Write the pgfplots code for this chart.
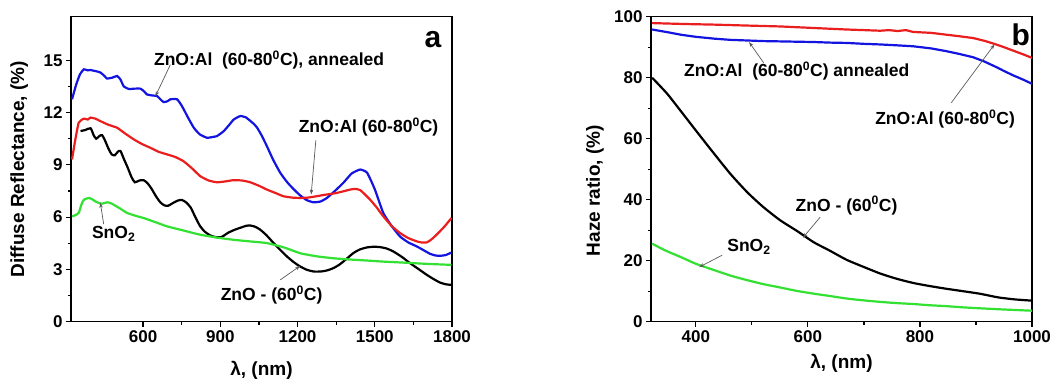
\documentclass[border=0pt]{standalone}
\usepackage{fontspec}
\setmainfont{Liberation Sans}
\usepackage{pgfplots}
\pgfplotsset{compat=1.18}
\usetikzlibrary{arrows.meta}
\definecolor{cblue}{RGB}{20,20,225}
\definecolor{cred}{RGB}{235,30,30}
\definecolor{cgreen}{RGB}{50,225,50}
\newcommand{\fs}{\fontsize{17}{20}\selectfont\bfseries}
\newcommand{\fa}{\fontsize{17.5}{21}\selectfont\bfseries}
\newcommand{\fl}{\fontsize{19}{22}\selectfont\bfseries}
\newcommand{\dg}{\textsuperscript{0}}
\tikzset{ann/.style={gray!70!black, line width=0.7pt, -{Stealth[length=5pt,width=3.5pt]}}}
\pgfplotsset{
  myax/.style={
    scale only axis, width=381pt, height=305pt,
    axis line style={line width=1.4pt},
    tick align=outside, tick pos=left,
    major tick length=5pt, minor tick length=3pt,
    every tick/.style={line width=1.2pt, black},
    minor tick num=1,
    tick label style={font=\fs},
    /pgf/number format/assume math mode=true,
    /pgf/number format/1000 sep={},
    label style={font=\fl},
    clip=true,
  },
}
\begin{document}
\begin{tikzpicture}
\useasboundingbox (0,0) rectangle (1057pt,385pt);
% ---------------- panel a
\begin{axis}[myax, at={(71pt,63.3pt)},
  xmin=320, xmax=1800, ymin=0, ymax=17.5,
  xtick={600,900,1200,1500,1800}, ytick={0,3,6,9,12,15},
  xlabel={λ, (nm)}, ylabel={Diffuse Reflectance, (\%)},
  xlabel style={at={(axis description cs:0.5,-0.158)}, anchor=center},
  ylabel style={at={(axis description cs:-0.136,0.5)}, anchor=center, rotate=0},
]
\addplot[cblue, line width=2.2pt, smooth, tension=0.3] coordinates {
(324,12.76)(340,13.6)(355,14.2)(370,14.48)(385,14.42)(395,14.44)(415,14.38)(434,14.3)(450,14.1)(460,13.95)(480,14.0)(499,14.1)(512,13.9)(525,13.5)(545,13.35)(564,13.37)(590,13.37)(605,13.2)(615,13.04)(635,12.98)(654,12.95)(668,12.75)(680,12.6)(695,12.65)(706,12.76)(732,12.76)(751,12.37)(775,11.7)(797,11.13)(820,10.75)(849,10.55)(870,10.6)(887,10.65)(913,10.93)(935,11.3)(952,11.6)(978,11.8)(1000,11.72)(1010,11.6)(1030,11.35)(1043,11.13)(1060,10.7)(1081,10.07)(1105,9.3)(1133,8.54)(1160,8.0)(1185,7.6)(1210,7.25)(1235,6.98)(1262,6.85)(1290,6.9)(1314,7.1)(1345,7.5)(1378,7.97)(1410,8.5)(1443,8.73)(1470,8.55)(1500,7.6)(1533,6.24)(1565,5.5)(1598,4.89)(1630,4.55)(1663,4.32)(1690,4.1)(1714,3.9)(1735,3.8)(1753,3.78)(1775,3.82)(1798,3.97)
};
\addplot[cred, line width=2.2pt, smooth, tension=0.3] coordinates {
(324,9.31)(335,10.3)(350,11.42)(370,11.65)(385,11.6)(396,11.71)(415,11.65)(434,11.51)(465,11.3)(499,11.13)(530,10.8)(564,10.46)(595,10.2)(628,9.98)(660,9.75)(693,9.6)(725,9.45)(757,9.21)(790,8.8)(822,8.35)(855,8.1)(887,8.0)(920,8.05)(951,8.12)(985,8.1)(1016,8.0)(1050,7.8)(1081,7.58)(1115,7.38)(1145,7.2)(1180,7.12)(1210,7.1)(1240,7.12)(1275,7.2)(1305,7.28)(1339,7.35)(1370,7.45)(1404,7.58)(1425,7.62)(1443,7.55)(1462,7.3)(1482,7.0)(1505,6.6)(1533,6.05)(1565,5.5)(1598,5.09)(1630,4.8)(1663,4.61)(1680,4.55)(1702,4.55)(1720,4.72)(1740,4.99)(1770,5.45)(1798,5.95)
};
\addplot[black, line width=2.2pt, smooth, tension=0.4] coordinates {
(357,10.94)(376,11.0)(396,11.1)(408,10.7)(418,10.5)(430,10.65)(441,10.7)(452,10.4)(465,9.95)(478,9.6)(490,9.55)(502,9.75)(512,9.8)(525,9.35)(540,8.85)(555,8.3)(568,8.0)(585,8.1)(602,8.12)(617,7.95)(632,7.65)(650,7.2)(667,6.85)(682,6.68)(697,6.65)(715,6.8)(735,6.95)(751,6.98)(767,6.85)(785,6.55)(803,6.0)(822,5.47)(841,5.15)(861,4.95)(880,4.86)(900,4.84)(915,4.95)(930,5.1)(955,5.27)(980,5.4)(1000,5.5)(1016,5.52)(1035,5.45)(1055,5.28)(1080,4.95)(1107,4.51)(1133,4.12)(1159,3.74)(1185,3.42)(1210,3.17)(1236,2.98)(1262,2.88)(1290,2.88)(1314,2.94)(1340,3.08)(1365,3.3)(1390,3.6)(1417,3.94)(1443,4.15)(1469,4.26)(1495,4.3)(1520,4.28)(1546,4.2)(1572,4.03)(1605,3.72)(1637,3.36)(1670,3.02)(1702,2.69)(1728,2.45)(1753,2.25)(1775,2.15)(1798,2.11)
};
\addplot[cgreen, line width=2.2pt, smooth, tension=0.3] coordinates {
(324,6.04)(335,6.1)(350,6.24)(360,6.7)(370,7.0)(390,7.1)(405,7.0)(415,6.9)(430,6.8)(441,6.77)(460,6.85)(475,6.8)(486,6.71)(510,6.5)(538,6.24)(570,6.08)(602,5.95)(650,5.7)(693,5.47)(760,5.22)(822,4.99)(890,4.82)(951,4.7)(1020,4.6)(1081,4.51)(1150,4.25)(1210,3.93)(1275,3.75)(1339,3.64)(1400,3.57)(1469,3.51)(1530,3.45)(1598,3.4)(1700,3.32)(1798,3.26)
};
\node[font=\fa, anchor=west] at (axis cs:629,15) {ZnO:Al\ \ (60-80\dg C), annealed};
\draw[ann] (axis cs:706,14.75) -- (axis cs:648,12.94);
\node[font=\fa, anchor=west] at (axis cs:1191,11.15) {ZnO:Al (60-80\dg C)};
\draw[ann] (axis cs:1271,10.4) -- (axis cs:1253,7.3);
\node[font=\fa, anchor=west] at (axis cs:388,5.05) {SnO\textsubscript{2}};
\draw[ann] (axis cs:447,5.6) -- (axis cs:434,6.82);
\node[font=\fa, anchor=west] at (axis cs:888,1.54) {ZnO - (60\dg C)};
\draw[ann] (axis cs:1133,2.4) -- (axis cs:1210,3.2);
\node[font=\fontsize{30}{34}\selectfont\bfseries] at (axis cs:1726,16.2) {a};
\end{axis}
% ---------------- panel b
\begin{axis}[myax, at={(651pt,63.3pt)},
  xmin=320, xmax=1000, ymin=0, ymax=100,
  xtick={400,600,800,1000}, ytick={0,20,40,60,80,100},
  xlabel={λ, (nm)}, ylabel={Haze ratio, (\%)},
  xlabel style={at={(axis description cs:0.5,-0.136)}, anchor=center},
  ylabel style={at={(axis description cs:-0.147,0.43)}, anchor=center, rotate=0},
]
\addplot[cred, line width=2.2pt] coordinates {
(322,97.9)(380,97.6)(433,97.4)(490,97.1)(551,96.8)(610,96.3)(669,95.8)(700,95.6)(729,95.4)(745,95.6)(760,95.3)(775,95.6)(788,95.0)(820,94.7)(847,94.1)(870,93.6)(895,93.0)(915,92.1)(936,90.9)(950,90.0)(966,88.9)(985,87.6)(1000,86.5)
};
\addplot[cblue, line width=2.2pt] coordinates {
(322,95.8)(350,94.9)(373,94.1)(400,93.4)(433,92.8)(462,92.4)(492,92.2)(520,92.0)(551,91.9)(580,91.8)(610,91.7)(640,91.5)(669,91.4)(700,91.1)(729,90.9)(760,90.6)(788,90.3)(820,89.6)(847,88.7)(870,87.8)(895,86.7)(915,85.3)(936,83.5)(950,82.2)(966,80.8)(985,79.3)(1000,78.0)
};
\addplot[black, line width=2.2pt, smooth, tension=0.4] coordinates {
(322,80.0)(335,77.5)(350,74.5)(373,69.1)(403,62.0)(433,55.0)(462,48.4)(492,42.4)(521,37.5)(551,33.2)(581,29.7)(610,26.1)(640,23.2)(669,20.3)(699,18.0)(729,15.8)(758,14.1)(788,12.7)(817,11.7)(847,10.8)(877,10.0)(906,9.2)(925,8.5)(942,7.9)(970,7.3)(1000,6.9)
};
\addplot[cgreen, line width=2.2pt, smooth, tension=0.4] coordinates {
(322,25.6)(345,23.4)(373,21.2)(400,19.0)(433,16.9)(462,15.1)(492,13.6)(521,12.3)(551,11.2)(580,10.1)(610,9.2)(640,8.4)(669,7.6)(699,7.0)(729,6.5)(758,6.1)(788,5.8)(817,5.4)(847,5.1)(877,4.7)(906,4.4)(950,4.0)(1000,3.6)
};
\node[font=\fa, anchor=west] at (axis cs:373,82.1) {ZnO:Al\ \ (60-80\dg C) annealed};
\draw[ann] (axis cs:521,84.9) -- (axis cs:495,91.7);
\node[font=\fa, anchor=west] at (axis cs:714,66.5) {ZnO:Al (60-80\dg C)};
\draw[ann] (axis cs:856,71.8) -- (axis cs:933,90.9);
\node[font=\fa, anchor=west] at (axis cs:572,38.1) {ZnO - (60\dg C)};
\draw[ann] (axis cs:622,34.3) -- (axis cs:591,27.5);
\node[font=\fa, anchor=west] at (axis cs:450,24.6) {SnO\textsubscript{2}};
\draw[ann] (axis cs:447,21.8) -- (axis cs:406,17.9);
\node[font=\fontsize{30}{34}\selectfont\bfseries] at (axis cs:980,94.1) {b};
\end{axis}
\end{tikzpicture}
\end{document}
